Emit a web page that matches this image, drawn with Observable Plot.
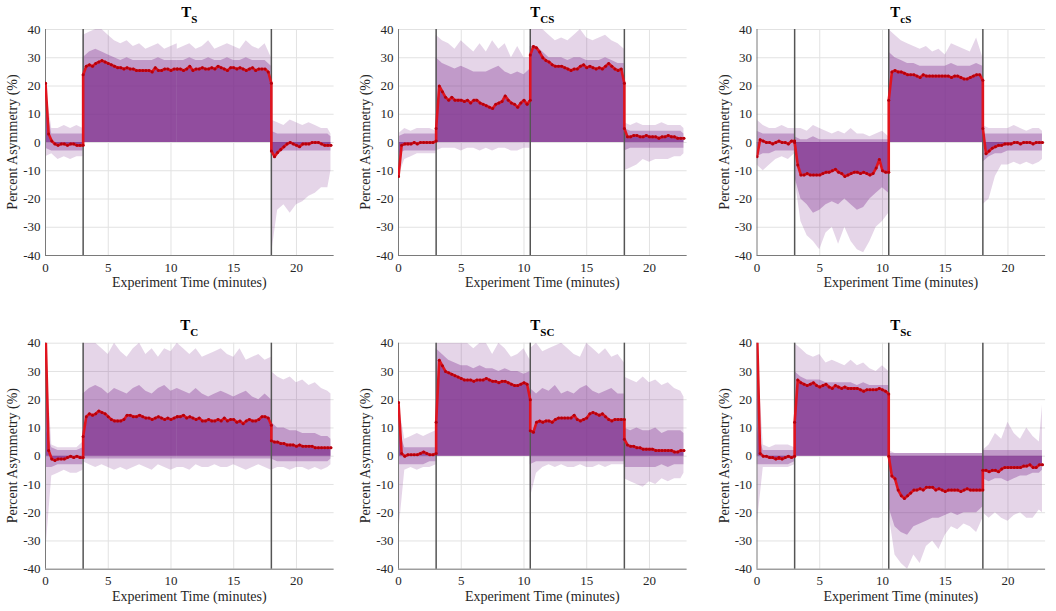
<!DOCTYPE html>
<html>
<head>
<meta charset="utf-8">
<script src="https://cdn.jsdelivr.net/npm/d3@7"></script>
<script src="https://cdn.jsdelivr.net/npm/@observablehq/plot@0.6"></script>
<style>
  body { margin: 0; background: #fff; }
  #chart { position: relative; width: 1056px; height: 611px; background: #fff; overflow: hidden; font-family: "Liberation Serif", "DejaVu Serif", serif; }
  #chart svg, #chart svg text { font-family: "Liberation Serif", "DejaVu Serif", serif !important; }
  .panel { position: absolute; }
</style>
</head>
<body>
<div id="chart"></div>
<script>
// ---------- sample times (minutes), per protocol phase ----------
const meanTimes = [
  [0,0.25,0.5,0.75,1,1.25,1.5,1.75,2,2.25,2.5,2.75,3],
  [3,3.25,3.5,3.75,4,4.25,4.5,4.75,5,5.25,5.5,5.75,6,6.25,6.5,6.75,7,7.25,7.5,7.75,8,8.25,8.5,8.75,9,9.25,9.5,9.75,10,10.25,10.5],
  [10.5,10.75,11,11.25,11.5,11.75,12,12.25,12.5,12.75,13,13.25,13.5,13.75,14,14.25,14.5,14.75,15,15.25,15.5,15.75,16,16.25,16.5,16.75,17,17.25,17.5,17.75,18],
  [18,18.25,18.5,18.75,19,19.25,19.5,19.75,20,20.25,20.5,20.75,21,21.25,21.5,21.75,22,22.25,22.5,22.75]
];
const envTimes = [
  [0,0.5,1,1.5,2,2.5,3],
  [3,3.5,4,4.5,5,5.5,6,6.5,7,7.5,8,8.5,9,9.5,10,10.5],
  [10.5,11,11.5,12,12.5,13,13.5,14,14.5,15,15.5,16,16.5,17,17.5,18],
  [18,18.5,19,19.5,20,20.5,21,21.5,22,22.5,22.75]
];
const xTicks = [0, 5, 10, 15, 20];
const yTicks = [-40, -30, -20, -10, 0, 10, 20, 30, 40];
const titles = ["S", "CS", "cS", "C", "SC", "Sc"];

// ---------- T_S ----------
const TS_lines = [3, 18];
const TS_mean = [
  [21,3,0.5,-0.5,-1,-0.5,-0.5,-1,-0.5,-0.5,-1,-1,-1],
  [24,27,27.5,27,28,28.5,29,28.5,28,27.5,27,26.5,26.5,26,26.5,26,26,25.5,25.5,25.5,25.5,25.5,25,26.5,25.5,25.5,26,26,25.5,26,26],
  [26,26,25.5,26,27,25.5,26,26,26.5,26,26,26.5,26,27,26.5,26,25.5,26.5,26.5,26,26.5,26,25.5,26,26.5,25.5,26,26,26,25,21],
  [-3,-5,-3.5,-2.5,-1.5,-0.5,0,-0.5,-1,-1.5,-0.5,-0.5,-0.5,0,0,0,-0.5,-1,-1,-1]
];
const TS_hi = [[20,5,5,6,5,6,5],[38,39,40,40,38,36,35,36,34,35,33,34,35,33,34,35],[33,34,35,33,34,36,33,34,35,34,33,36,34,33,35,30],[8,7,6,8,7,6,7,6,5,5,3]];
const TS_lo = [[-5,-4,-6,-5,-6,-5,-5],[0,0,0,0,0,0,0,0,0,0,0,0,0,0,0,0],[0,0,0,0,0,0,0,0,0,0,0,0,0,0,0,0],[-40,-24,-22,-25,-22,-21,-19,-18,-16,-16,-10]];
const TS_hi2 = [[15,3,3,3,3,3,3],[30,32,33,32,31,30,29,30,29,29,29,29,30,29,29,29],[29,29,30,29,29,30,29,29,30,29,29,30,29,29,29,27],[4,3,3,3,3,3,3,3,3,3,2]];
const TS_lo2 = [[-2,-3,-3,-3,-3,-3,-3],[0,0,0,0,0,0,0,0,0,0,0,0,0,0,0,0],[0,0,0,0,0,0,0,0,0,0,0,0,0,0,0,0],[-4,-4,-3,-3,-3,-3,-3,-3,-3,-3,-3]];

// ---------- T_CS ----------
const TCS_lines = [3, 10.5, 18];
const TCS_mean = [
  [-12,-1,-0.5,-0.5,-0.5,0,-0.5,0,0,0,0,0,0.5],
  [5,20,18,16,15,16,15,15,15,14.5,15,14,15,15,14,13.5,13,12.5,12,13.5,14,14.5,16.5,15,14,13.5,12.5,14,15,13.5,15],
  [31,34,33.5,32,30,29,28.5,27.5,27,27,27,26.5,26,25.5,26,26,27,27.5,26.5,27,26.5,26,26.5,26,27,28,27,26,25.5,26,21],
  [5,2,2,2.5,2.5,2,2,2.5,2,2,2,1.5,2,2,2.5,2,2,1.5,1.5,1.5]
];
const TCS_hi = [[3,5,4,5,5,5,4],[38,36,35,33,36,34,32,35,32,36,33,35,30,34,30,30],[40,40,40,38,36,37,36,38,40,37,36,37,38,36,35,33],[7,6,7,6,6,6,7,6,6,6,5]];
const TCS_lo = [[-12,-6,-5,-4,-4,-4,-4],[-3,-2,-2,-2,-3,-2,-2,-3,-2,-3,-2,-2,-3,-3,-2,-2],[0,0,0,0,0,0,0,0,0,0,0,0,0,0,0,0],[-10,-9,-8,-6,-7,-6,-6,-6,-5,-5,-4]];
const TCS_hi2 = [[2,3,3,3,3,3,3],[30,28,27,26,27,26,25,25,25,26,27,25,24,25,24,26],[34,34,32,30,30,30,29,30,30,29,29,29,30,29,28,28],[5,4,4,4,4,4,4,4,4,4,3]];
const TCS_lo2 = [[-4,-3,-3,-3,-3,-3,-3],[0,0,0,0,0,0,0,0,0,0,0,0,0,0,0,0],[0,0,0,0,0,0,0,0,0,0,0,0,0,0,0,0],[-3,-2,-2,-2,-2,-2,-2,-2,-2,-2,-2]];

// ---------- T_cS ----------
const TcS_lines = [3, 10.5, 18];
const TcS_mean = [
  [-5,1,0.5,0,0,-0.5,0,0.5,0,0,-0.5,0.5,0.5],
  [0,-8,-11.5,-11.5,-11,-11.5,-11.5,-11.5,-11.5,-11,-10.5,-10.5,-10,-9.5,-10.5,-11,-12,-11.5,-11,-10.5,-10.5,-11,-10.5,-11,-11.5,-11,-9,-6,-10,-10.5,-10.5],
  [15,25,25.5,25,25,24.5,24,24,24,23.5,23,24,23.5,23.5,23.5,23.5,23.5,23.5,23.5,23.5,23,23.5,23.5,23,22.5,22.5,23,23.5,24,24,22],
  [5,-4,-3,-2,-1.5,-1,-1,-0.5,-0.5,-0.5,0,0,-0.5,0,0,0,-0.5,0,0,0]
];
const TcS_hi = [[8,6,5,5,6,5,5],[5,5,4,6,5,4,3,4,3,5,3,3,2,3,4,2],[40,38,36,35,34,33,34,32,33,31,35,34,33,32,37,30],[6,5,5,5,5,6,5,4,5,5,4]];
const TcS_lo = [[-8,-10,-8,-6,-5,-6,-4],[-12,-28,-33,-35,-38,-32,-30,-36,-30,-35,-38,-39,-35,-30,-28,-25],[0,0,0,0,0,0,0,0,0,0,0,0,0,0,0,0],[-22,-20,-12,-8,-8,-7,-8,-7,-8,-7,-6]];
const TcS_hi2 = [[4,3,3,3,3,3,3],[2,1,1,2,1,1,1,1,1,1,1,1,1,1,1,1],[32,30,29,28,28,27,27,27,27,27,28,27,27,27,28,27],[3,3,3,3,3,3,3,3,3,3,3]];
const TcS_lo2 = [[-5,-4,-4,-3,-3,-3,-3],[-12,-20,-22,-25,-24,-22,-21,-22,-20,-22,-24,-23,-20,-18,-16,-18],[0,0,0,0,0,0,0,0,0,0,0,0,0,0,0,0],[-7,-5,-4,-4,-3,-3,-3,-3,-3,-3,-3]];

// ---------- T_C ----------
const TC_lines = [3, 18];
const TC_mean = [
  [45,2,-1,-1.5,-1,-1,-1,-0.5,0,-0.5,0,-0.5,-0.5],
  [7,14,15,14.5,15,16,15.5,15,14,13,12.5,12.5,12.5,13,14.5,14.5,14,14,14.5,14,13.5,13.5,13,13.5,14,13.5,13,13.5,13,13.5,14],
  [14,14,14.5,13.5,14,13.5,13,13.5,12.5,12.5,13,12.5,12.5,13,12.5,13.5,12.5,13,13,12,12.5,11.5,12.5,13,12.5,12.5,13,14,14,13.5,11],
  [5.5,5,5,4.5,4.5,4,4,4,3.5,4,3.5,3.5,3.5,3.5,3,3,3,3,3,3]
];
const TC_hi = [[40,4,3,3,3,3,5],[40,40,40,38,36,40,37,35,38,40,36,38,35,38,37,40],[40,38,36,38,35,36,37,38,36,35,38,34,35,36,34,35],[30,28,27,28,26,27,25,26,24,23,22]];
const TC_lo = [[-35,-7,-6,-5,-6,-6,-5],[-2,-3,-4,-3,-4,-5,-4,-5,-4,-3,-4,-5,-3,-4,-5,-4],[-4,-4,-5,-3,-4,-4,-3,-4,-4,-3,-4,-5,-4,-3,-4,-5],[-5,-4,-4,-5,-4,-4,-5,-4,-5,-4,-3]];
const TC_hi2 = [[10,3,2,2,2,2,3],[22,24,25,24,22,24,23,22,24,25,23,22,24,25,23,24],[24,23,22,24,22,21,22,23,22,21,22,23,21,20,22,20],[12,10,10,9,9,8,8,8,7,7,6]];
const TC_lo2 = [[-4,-4,-3,-3,-3,-3,-3],[-1,-1,-1,-1,-1,-1,-1,-1,-1,-1,-1,-1,-1,-1,-1,-1],[-1,-1,-1,-1,-1,-1,-1,-1,-1,-1,-1,-1,-1,-1,-1,-1],[-1,-2,-2,-2,-2,-2,-2,-2,-2,-2,-1]];

// ---------- T_SC ----------
const TSC_lines = [3, 10.5, 18];
const TSC_mean = [
  [19,1,0,0.5,0.5,0.5,0.5,1,1.5,1,0.5,0.5,1],
  [12,34,32,30,29.5,29,28.5,28,27.5,27,27,27,26.5,27,27,27,27.5,27,26.5,26.5,26,26.5,26.5,26,25.5,25,25,25.5,26,25.5,20],
  [9,8.5,12,12.5,12,12.5,12.5,12,13,13.5,13.5,13.5,13.5,13.5,14.5,13,12.5,13,13.5,15,15.5,15,14.5,15,14,13,12.5,13,13,13,13],
  [6,4,3.5,3.5,3,3,2.5,2.5,2.5,2.5,2,2,2,2,2,2,1.5,1.5,2,2]
];
const TSC_hi = [[19,6,7,8,7,8,9],[40,40,40,40,40,40,38,40,40,36,40,38,35,36,38,34],[38,40,37,38,39,40,38,36,35,40,38,36,38,35,36,33],[28,27,26,28,26,27,25,26,24,23,21]];
const TSC_lo = [[-28,-5,-4,-5,-4,-4,-3],[0,0,0,0,0,0,0,0,0,0,0,0,0,0,0,0],[-15,-6,-4,-3,-4,-3,-4,-4,-3,-4,-4,-3,-4,-3,-3,-3],[-8,-9,-10,-11,-9,-10,-8,-9,-8,-8,-6]];
const TSC_hi2 = [[10,3,3,3,3,3,3],[38,36,34,33,32,32,31,32,31,31,30,31,30,30,29,30],[24,22,24,23,25,22,23,22,24,25,23,22,23,24,22,22],[10,9,10,9,9,10,8,9,9,9,8]];
const TSC_lo2 = [[-3,-3,-3,-3,-3,-2,-2],[0,0,0,0,0,0,0,0,0,0,0,0,0,0,0,0],[-3,-2,-2,-2,-2,-2,-2,-2,-2,-2,-2,-2,-2,-2,-2,-2],[-4,-4,-4,-4,-4,-4,-3,-4,-3,-3,-3]];

// ---------- T_Sc ----------
const TSc_lines = [3, 10.5, 18];
const TSc_mean = [
  [45,1,0,0,-0.5,-0.5,-1,-0.5,-1,-0.5,0,-0.5,0],
  [12,27,26,25.5,25,25.5,26,25,24.5,25,25.5,24.5,24,25,24.5,24,24.5,24,24,24,24,23.5,23,23.5,23.5,23.5,23.5,24,23.5,23,22],
  [0,-7,-8,-12,-14,-15,-14,-13,-12,-12,-11.5,-12,-11,-11,-11,-12,-11.5,-12,-12.5,-12,-12,-12,-12,-12.5,-12,-11.5,-12,-12,-12,-12,-12],
  [-5,-5,-5.5,-5,-5,-5.5,-4.5,-4,-4,-4,-4,-4,-4,-3.5,-3.5,-3,-4,-4,-3,-3]
];
const TSc_hi = [[40,4,3,4,4,4,3],[40,38,36,35,36,33,34,33,32,34,32,33,31,30,32,30],[2,1,1,1,1,1,1,1,1,1,1,1,1,1,1,1],[2,4,8,6,12,8,6,10,7,5,18]];
const TSc_lo = [[-25,-4,-4,-4,-4,-4,-3],[0,0,0,0,0,0,0,0,0,0,0,0,0,0,0,0],[-20,-35,-38,-40,-35,-38,-32,-30,-33,-28,-25,-26,-24,-25,-27,-22],[-20,-22,-20,-22,-23,-21,-20,-22,-22,-19,-20]];
const TSc_hi2 = [[10,2,2,2,2,2,2],[30,28,27,27,27,26,26,26,26,26,25,26,25,25,25,25],[1,1,1,1,1,1,1,1,1,1,1,1,1,1,1,1],[2,2,2,2,2,2,2,2,2,2,2]];
const TSc_lo2 = [[-3,-3,-3,-3,-3,-3,-2],[0,0,0,0,0,0,0,0,0,0,0,0,0,0,0,0],[-18,-25,-27,-28,-25,-24,-23,-22,-22,-21,-20,-21,-20,-20,-20,-18],[-8,-9,-8,-8,-9,-8,-7,-7,-6,-6,-5]];

// ---------- assemble ----------
const panels = [
  {sub: titles[0], lines: TS_lines,  mean: TS_mean,  hi: TS_hi,  lo: TS_lo,  hi2: TS_hi2,  lo2: TS_lo2},
  {sub: titles[1], lines: TCS_lines, mean: TCS_mean, hi: TCS_hi, lo: TCS_lo, hi2: TCS_hi2, lo2: TCS_lo2},
  {sub: titles[2], lines: TcS_lines, mean: TcS_mean, hi: TcS_hi, lo: TcS_lo, hi2: TcS_hi2, lo2: TcS_lo2},
  {sub: titles[3], lines: TC_lines,  mean: TC_mean,  hi: TC_hi,  lo: TC_lo,  hi2: TC_hi2,  lo2: TC_lo2},
  {sub: titles[4], lines: TSC_lines, mean: TSC_mean, hi: TSC_hi, lo: TSC_lo, hi2: TSC_hi2, lo2: TSC_lo2},
  {sub: titles[5], lines: TSc_lines, mean: TSc_mean, hi: TSc_hi, lo: TSc_lo, hi2: TSc_hi2, lo2: TSc_lo2}
];

const purple = "#7E2F8E";
const colLeft = [45, 46, 52.5];
const plotW = 288.6;
const rowTop = [0, 305];
const rowH = [305, 306];
const rowMarginTop = [29, 37.7];
const plotH = 226;
const svgW = 352;
const serif = "Liberation Serif, DejaVu Serif, serif";

const chart = document.getElementById("chart");

panels.forEach((p, idx) => {
  const col = idx % 3, row = Math.floor(idx / 3);
  const env = [];
  envTimes.forEach((ts, k) => ts.forEach((t, i) => env.push({t, k, hi: p.hi[k][i], lo: p.lo[k][i], hi2: p.hi2[k][i], lo2: p.lo2[k][i]})));
  const mean = [];
  meanTimes.forEach((ts, k) => ts.forEach((t, i) => mean.push({t, k, v: p.mean[k][i]})));

  const mL = colLeft[col], mT = rowMarginTop[row];
  const svg = Plot.plot({
    width: svgW,
    height: rowH[row],
    marginLeft: mL,
    marginRight: svgW - mL - plotW,
    marginTop: mT,
    marginBottom: rowH[row] - mT - plotH,
    style: {fontSize: "13px", color: "#262626", background: "#fff", overflow: "visible"},
    x: {domain: [0, 23], ticks: xTicks, tickSize: 0, tickPadding: 7, label: null, tickFormat: d => String(d)},
    y: {domain: [-40, 40], ticks: yTicks, tickSize: 0, tickPadding: 5, label: null, tickFormat: d => String(d)},
    marks: [
      Plot.ruleX(xTicks.slice(1), {stroke: "#e2e2e2", strokeWidth: 1}),
      Plot.ruleY(yTicks, {stroke: "#e2e2e2", strokeWidth: 1}),
      Plot.areaY(env, {x: "t", y1: "lo", y2: "hi", z: "k", fill: purple, fillOpacity: 0.2, curve: "linear", clip: true}),
      Plot.areaY(env, {x: "t", y1: "lo2", y2: "hi2", z: "k", fill: purple, fillOpacity: 0.35, curve: "linear", clip: true}),
      Plot.areaY(mean, {x: "t", y1: 0, y2: "v", z: "k", fill: purple, fillOpacity: 0.72, curve: "linear", clip: true}),
      Plot.ruleX([0], {stroke: "#7a7a7a", strokeWidth: 1}),
      Plot.ruleY([-40], {stroke: "#7a7a7a", strokeWidth: 1}),
      Plot.ruleX(p.lines, {stroke: "#555", strokeWidth: 1.5}),
      Plot.line(mean, {x: "t", y: "v", stroke: "#e0141e", strokeWidth: 2.6, clip: true}),
      Plot.dot(mean, {x: "t", y: "v", r: 1.5, fill: "#b5000c", stroke: "none", clip: true})
    ]
  });

  const s = d3.select(svg);
  const cx = mL + plotW / 2;
  const title = s.append("text")
    .attr("x", cx).attr("y", mT - 12.5)
    .attr("text-anchor", "middle")
    .attr("font-weight", "bold").attr("font-size", 15)
    .attr("fill", "#000");
  title.append("tspan").text("T");
  title.append("tspan").attr("dy", 6).attr("font-size", 11).text(p.sub);

  s.append("text")
    .attr("x", cx).attr("y", mT + plotH + 32)
    .attr("text-anchor", "middle")
    .attr("font-size", 14).attr("fill", "#262626")
    .text("Experiment Time (minutes)");

  s.append("text")
    .attr("transform", `translate(${mL - 28},${mT + plotH / 2}) rotate(-90)`)
    .attr("text-anchor", "middle")
    .attr("font-size", 14).attr("fill", "#262626")
    .text("Percent Asymmetry (%)");

  const wrap = document.createElement("div");
  wrap.className = "panel";
  wrap.style.left = (col * svgW) + "px";
  wrap.style.top = rowTop[row] + "px";
  wrap.style.width = svgW + "px";
  wrap.appendChild(svg);
  chart.appendChild(wrap);
});
</script>
</body>
</html>
